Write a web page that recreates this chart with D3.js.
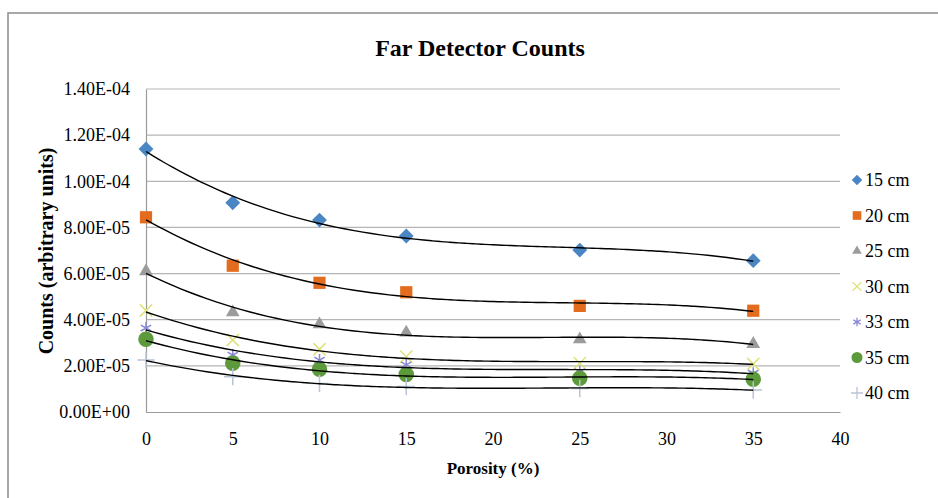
<!DOCTYPE html>
<html>
<head>
<meta charset="utf-8">
<script src="https://cdn.jsdelivr.net/npm/d3@7"></script>
<style>
  body { margin: 0; background: #fff; }
  svg text { font-family: "Liberation Serif", "Times New Roman", serif; fill: #000; }
</style>
</head>
<body>
<svg id="chart" width="938" height="498"></svg>
<script>
// values
const porosity = [0, 5, 10, 15, 25, 35];
const seriesNames = ['15 cm', '20 cm', '25 cm', '30 cm', '33 cm', '35 cm', '40 cm'];
const counts15 = [1.14e-4, 9.07e-5, 8.32e-5, 7.63e-5, 7.02e-5, 6.56e-5];
const counts20 = [8.44e-5, 6.34e-5, 5.60e-5, 5.19e-5, 4.60e-5, 4.39e-5];
const counts25 = [6.10e-5, 4.32e-5, 3.80e-5, 3.44e-5, 3.15e-5, 2.95e-5];
const counts30 = [4.40e-5, 3.12e-5, 2.72e-5, 2.40e-5, 2.12e-5, 2.08e-5];
const counts33 = [3.64e-5, 2.47e-5, 2.25e-5, 2.04e-5, 1.75e-5, 1.68e-5];
const counts35 = [3.15e-5, 2.11e-5, 1.85e-5, 1.63e-5, 1.46e-5, 1.42e-5];
const counts40 = [2.25e-5, 1.53e-5, 1.24e-5, 1.10e-5, 1.02e-5, 9.5e-6];
const yTicks = [0, 2e-5, 4e-5, 6e-5, 8e-5, 1e-4, 1.2e-4, 1.4e-4];
const xTicks = [0, 5, 10, 15, 20, 25, 30, 35, 40];

const allCounts = [counts15, counts20, counts25, counts30, counts33, counts35, counts40];

const styles = [
    { symbol: d3.symbolDiamond2, size: 140, fill: '#4a86c4', stroke: 'none' },
    { symbol: d3.symbolSquare2, size: 190, fill: '#e36c1e', stroke: 'none' },
    { symbol: d3.symbolTriangle2, size: 135, fill: '#9c9c9c', stroke: 'none' },
    { symbol: d3.symbolX, size: 100, fill: 'none', stroke: '#dfe27a' },
    { symbol: d3.symbolAsterisk, size: 100, fill: 'none', stroke: '#8a88d4' },
    { symbol: d3.symbolCircle, size: 190, fill: '#5d9a3b', stroke: 'none' },
    { symbol: d3.symbolPlus, size: 100, fill: 'none', stroke: '#b9c3d6' }
];

const svg = d3.select('#chart');

const margin = { left: 146, right: 840, top: 89, bottom: 412 };
const x = d3.scaleLinear().domain([0, 40]).range([margin.left, margin.right]);
const y = d3.scaleLinear().domain([0, 1.4e-4]).range([margin.bottom, margin.top]);

// outer frame
svg.append('rect')
    .attr('x', 8).attr('y', 13)
    .attr('width', 960).attr('height', 520)
    .attr('fill', 'none')
    .attr('stroke', '#8c8c8c')
    .attr('stroke-width', 1.5);

svg.append('text')
    .attr('x', 480).attr('y', 56)
    .attr('text-anchor', 'middle')
    .style('font-size', '24px')
    .style('font-weight', 'bold')
    .text('Far Detector Counts');

// gridlines
svg.append('g')
    .selectAll('line')
    .data(yTicks.slice(1))
    .join('line')
    .attr('x1', x(0)).attr('x2', x(40))
    .attr('y1', d => y(d)).attr('y2', d => y(d))
    .attr('stroke', '#b5b5b5')
    .attr('stroke-width', 1.2);

const yAxis = svg.append('g')
    .attr('transform', `translate(${x(0)},0)`)
    .call(d3.axisLeft(y).tickValues(yTicks).tickSize(0).tickPadding(16)
        .tickFormat(d => d.toExponential(2).replace('e-', 'E-0').replace('e+', 'E+0')));
yAxis.select('.domain').attr('stroke', '#9a9a9a').attr('stroke-width', 1.2);
yAxis.selectAll('text').style('font-size', '18px');

const xAxis = svg.append('g')
    .attr('transform', `translate(0,${y(0)})`)
    .call(d3.axisBottom(x).tickValues(xTicks).tickSize(0).tickPadding(20));
xAxis.select('.domain').attr('stroke', '#9a9a9a').attr('stroke-width', 1.2);
xAxis.selectAll('text').style('font-size', '18px');

svg.append('text')
    .attr('transform', 'translate(53,251) rotate(-90)')
    .attr('text-anchor', 'middle')
    .style('font-size', '20px')
    .style('font-weight', 'bold')
    .text('Counts (arbitrary units)');

svg.append('text')
    .attr('x', 493).attr('y', 474)
    .attr('text-anchor', 'middle')
    .style('font-size', '17px')
    .style('font-weight', 'bold')
    .text('Porosity (%)');

// least squares cubic trendline, like the spreadsheet's trendline option
const cubicFit = (xs, ys) => {
    const n = 4;
    const A = [];
    for (let i = 0; i < n; i++) {
        A.push([]);
        for (let j = 0; j < n; j++) A[i].push(d3.sum(xs, v => Math.pow(v, i + j)));
        A[i].push(d3.sum(xs, (v, k) => Math.pow(v, i) * ys[k] * 1e5));
    }
    for (let c = 0; c < n; c++) {
        let p = c;
        for (let r = c + 1; r < n; r++) if (Math.abs(A[r][c]) > Math.abs(A[p][c])) p = r;
        [A[c], A[p]] = [A[p], A[c]];
        for (let r = 0; r < n; r++) {
            if (r === c) continue;
            const f = A[r][c] / A[c][c];
            for (let k = c; k <= n; k++) A[r][k] -= f * A[c][k];
        }
    }
    const coef = A.map((row, i) => row[n] / row[i]);
    return v => (coef[0] + coef[1] * v + coef[2] * v * v + coef[3] * v * v * v) / 1e5;
};

const line = d3.line().x(d => x(d[0])).y(d => y(d[1])).curve(d3.curveBasis);

const markers = svg.append('g');
const trends = svg.append('g');

allCounts.forEach((vals, i) => {
    const st = styles[i];
    markers.selectAll(`.m${i}`)
        .data(vals)
        .join('path')
        .attr('class', `m${i}`)
        .attr('transform', (d, k) => `translate(${x(porosity[k])},${y(d)})`)
        .attr('d', d3.symbol().type(st.symbol).size(st.size))
        .attr('fill', st.fill)
        .attr('stroke', st.stroke)
        .attr('stroke-width', st.stroke === 'none' ? 0 : 1.5);

    const f = cubicFit(porosity, vals);
    const pts = d3.range(0, 35.01, 0.5).map(v => [v, f(v)]);
    trends.append('path')
        .attr('d', line(pts))
        .attr('fill', 'none')
        .attr('stroke', '#000')
        .attr('stroke-width', 1.4);
});

// legend
const legend = svg.append('g')
    .selectAll('g')
    .data(seriesNames)
    .join('g')
    .attr('transform', (d, i) => `translate(857,${180 + i * 35.5})`);

legend.append('path')
    .attr('d', (d, i) => d3.symbol().type(styles[i].symbol).size(styles[i].size * 0.5)())
    .attr('fill', (d, i) => styles[i].fill)
    .attr('stroke', (d, i) => styles[i].stroke)
    .attr('stroke-width', (d, i) => styles[i].stroke === 'none' ? 0 : 1.3);

legend.append('text')
    .attr('x', 8).attr('y', 6)
    .style('font-size', '18px')
    .text(d => d);
</script>
</body>
</html>
